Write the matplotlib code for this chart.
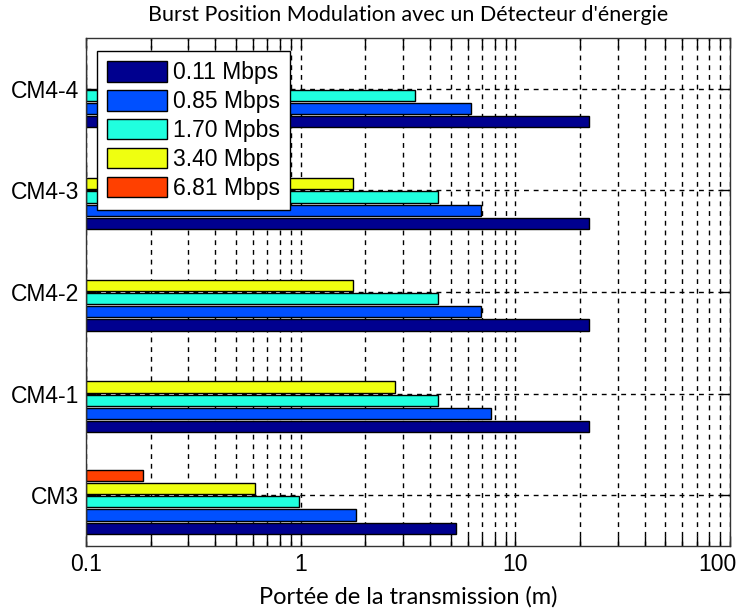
import numpy as np
import matplotlib
matplotlib.use("Agg")
import matplotlib.pyplot as plt
import matplotlib.transforms as mtransforms
from matplotlib.ticker import LogLocator, NullFormatter

categories = ['CM3', 'CM4-1', 'CM4-2', 'CM4-3', 'CM4-4']
series_labels = ['0.11 Mbps', '0.85 Mbps', '1.70 Mpbs', '3.40 Mbps', '6.81 Mbps']

# transmission range (m) per rate, in category order CM3 .. CM4-4 (0 = no bar)
r_011 = [5.3, 22.0, 22.0, 22.0, 22.0]
r_085 = [1.81, 7.7, 6.9, 6.9, 6.2]
r_170 = [0.98, 4.35, 4.35, 4.35, 3.42]
r_340 = [0.61, 2.74, 1.75, 1.75, 0]
r_681 = [0.185, 0, 0, 0, 0]

colors = ['#00008f', '#0050ff', '#20ffdf', '#efff10', '#ff4000']

plt.rcParams['font.family'] = ['Liberation Sans', 'DejaVu Sans']

fig = plt.figure(figsize=(7.39, 6.12), dpi=100)
ax = fig.add_axes([86 / 739, 1 - 546 / 612, 644 / 739, 508 / 612])

y = np.arange(1, len(categories) + 1)
step = 0.13
height = 0.11
all_series = [r_011, r_085, r_170, r_340, r_681]
for i, (vals, col, lab) in enumerate(zip(all_series, colors, series_labels)):
    vals = np.array(vals, dtype=float)
    w = np.where(vals > 0, vals - 0.1, 0)
    ax.barh(y + (i - 2.5) * step, w, left=0.1, height=height, color=col,
            edgecolor='black', linewidth=1.0, label=lab, zorder=2)

ax.set_xscale('log')
ax.set_xlim(0.1, 100)
ax.set_ylim(0.5, 5.5)
ax.set_yticks(y)
ax.set_yticklabels(categories)
ax.set_xticks([0.1, 1, 10, 100])
ax.set_xticklabels(['0.1', '1', '10', '100'])
ax.xaxis.set_minor_locator(LogLocator(base=10, subs=np.arange(2, 10)))
ax.xaxis.set_minor_formatter(NullFormatter())

ax.tick_params(axis='both', which='both', direction='in', top=True, right=True,
               length=7.5, width=1.0, labelsize=16.5)
ax.tick_params(axis='x', which='major', pad=5)
ax.tick_params(axis='y', which='major', pad=5)
ax.tick_params(axis='y', which='minor', left=False, right=False)

# MATLAB nudges the last tick label inside the figure
lab100 = ax.get_xticklabels()[-1]
lab100.set_transform(lab100.get_transform() +
                     mtransforms.ScaledTranslation(-13 / 100, 0, fig.dpi_scale_trans))

ax.grid(True, which='both', axis='x', color='black', linestyle=(0, (3.5, 3.5)), linewidth=1.0)
ax.grid(True, which='major', axis='y', color='black', linestyle=(0, (3.5, 3.5)), linewidth=1.0)
ax.set_axisbelow(True)
for s in ax.spines.values():
    s.set_linewidth(1.0)
    s.set_color('#333333')
    s.set_zorder(5)

ax.set_title("Burst Position Modulation avec un Détecteur d'énergie",
             fontfamily='Lato', fontsize=15.5, pad=12)
ax.set_xlabel('Portée de la transmission (m)', fontfamily='Lato', fontsize=17, labelpad=7)

leg = ax.legend(loc='upper left', bbox_to_anchor=((97 - 86) / 644, (546 - 51) / 508),
                borderaxespad=0, fontsize=16.5, handlelength=2.6, handleheight=1.0,
                labelspacing=0.25, handletextpad=0.25, borderpad=0.45, fancybox=False,
                framealpha=1, edgecolor='black')
leg.get_frame().set_linewidth(1.0)
leg.set_zorder(10)

fig.savefig('out.png', dpi=100)
